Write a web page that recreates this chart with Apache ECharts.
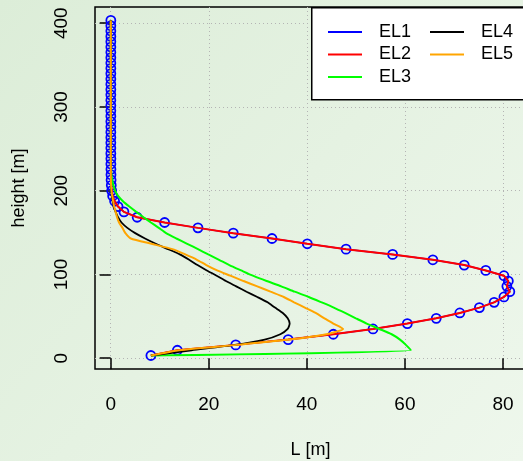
<!DOCTYPE html>
<html>
<head>
<meta charset="utf-8">
<script src="https://cdn.jsdelivr.net/npm/echarts@6/dist/echarts.min.js"></script>
<style>
  html, body { margin: 0; padding: 0; }
  #main { width: 523px; height: 461px; }
</style>
</head>
<body>
<div id="main"></div>
<script>
// model levels, height [m]
const heights = [
  3.2, 9.5, 15.9, 22.2, 28.6, 34.9, 41.3, 47.6, 54.0, 60.4,
  66.7, 73.1, 79.4, 85.8, 92.1, 98.5, 104.8, 111.2, 117.5, 123.9,
  130.2, 136.6, 142.9, 149.3, 155.6, 162.0, 168.3, 174.7, 181.0, 187.4,
  193.7, 200.1, 206.4, 212.8, 219.1, 225.5, 231.8, 238.2, 244.5, 250.9,
  257.2, 263.6, 269.9, 276.3, 282.6, 289.0, 295.3, 301.7, 308.0, 314.4,
  320.7, 327.1, 333.4, 339.8, 346.1, 352.5, 358.8, 365.2, 371.5, 377.9,
  384.2, 390.6, 396.9, 403.3
]

// L [m] per level
const el1 = [
  8.2, 13.6, 25.5, 36.2, 45.4, 53.5, 60.5, 66.4, 71.2, 75.2,
  78.2, 80.2, 81.4, 80.8, 81.1, 80.2, 76.5, 72.1, 65.7, 57.5,
  48.0, 40.1, 32.9, 25.0, 17.8, 11.0, 5.4, 2.7, 1.5, 0.8,
  0.4, 0.2, 0.12, 0.08, 0.06, 0.05, 0.04, 0.04, 0.03, 0.03,
  0.03, 0.03, 0.03, 0.03, 0.03, 0.03, 0.03, 0.03, 0.03, 0.03,
  0.03, 0.03, 0.03, 0.03, 0.03, 0.03, 0.03, 0.03, 0.03, 0.03,
  0.03, 0.03, 0.03, 0.03
]
// EL2 lies exactly on EL1
const el2 = el1
const el3 = [
  8.2, 61.2, 60.2, 59.0, 57.3, 54.8, 52.2, 50.0, 47.8, 45.5,
  43.0, 40.4, 37.5, 34.8, 31.8, 29.0, 26.6, 24.2, 22.1, 19.9,
  17.8, 15.6, 13.4, 11.3, 9.8, 8.2, 6.7, 5.2, 3.8, 2.5,
  1.5, 0.9, 0.55, 0.3, 0.15, 0.08, 0.05, 0.04, 0.04, 0.03,
  0.03, 0.03, 0.03, 0.03, 0.03, 0.03, 0.03, 0.03, 0.03, 0.03,
  0.03, 0.03, 0.03, 0.03, 0.03, 0.03, 0.03, 0.03, 0.03, 0.03,
  0.03, 0.03, 0.03, 0.03
]
const el4 = [
  8.2, 16.5, 25.3, 31.4, 34.6, 36.1, 36.5, 36.1, 35.1, 33.5,
  32.0, 29.9, 27.7, 25.6, 23.5, 21.6, 19.6, 17.7, 16.0, 14.1,
  11.7, 9.2, 7.0, 5.0, 3.4, 2.2, 1.5, 1.0, 0.6, 0.4,
  0.2, 0.1, 0.06, 0.05, 0.04, 0.04, 0.03, 0.03, 0.03, 0.03,
  0.03, 0.03, 0.03, 0.03, 0.03, 0.03, 0.03, 0.03, 0.03, 0.03,
  0.03, 0.03, 0.03, 0.03, 0.03, 0.03, 0.03, 0.03, 0.03, 0.03,
  0.03, 0.03, 0.03, 0.03
]
const el5 = [
  8.2, 14.0, 25.8, 36.5, 44.0, 47.4, 45.4, 43.6, 41.8, 39.6,
  37.4, 35.3, 32.6, 29.9, 27.1, 24.4, 21.7, 19.5, 17.6, 15.2,
  12.6, 8.3, 4.1, 3.0, 2.4, 1.7, 1.3, 1.0, 0.7, 0.5,
  0.3, 0.15, 0.08, 0.05, 0.04, 0.04, 0.03, 0.03, 0.03, 0.03,
  0.03, 0.03, 0.03, 0.03, 0.03, 0.03, 0.03, 0.03, 0.03, 0.03,
  0.03, 0.03, 0.03, 0.03, 0.03, 0.03, 0.03, 0.03, 0.03, 0.03,
  0.03, 0.03, 0.03, 0.03
]

const xTicks = [0, 20, 40, 60, 80]
const yTicks = [0, 100, 200, 300, 400]

const font = '"Liberation Sans", Arial, sans-serif'
const pts = arr => arr.map((v, i) => [v, heights[i]])

const chart = echarts.init(document.getElementById('main'))

const gridLine = { show: true, lineStyle: { color: '#b4b4b4', width: 1, type: [1, 3] } }
const legendText = { fontSize: 18, color: '#000', fontFamily: font, padding: [0, 0, 0, 12] }

chart.setOption({
  animation: false,
  backgroundColor: {
    type: 'linear', x: 0, y: 0, x2: 1, y2: 1,
    colorStops: [{ offset: 0, color: '#dcedd8' }, { offset: 1, color: '#eef7ec' }]
  },
  grid: {
    left: 95, right: -3, top: 7, bottom: 92, outerBoundsMode: 'none',
    show: true, borderColor: '#000', borderWidth: 1.5, backgroundColor: 'transparent'
  },
  xAxis: {
    type: 'value', min: -3.2, max: 84.7,
    name: 'L [m]', nameLocation: 'middle', nameGap: 72,
    nameTextStyle: { fontSize: 18, color: '#000', fontFamily: font },
    axisLine: { show: false },
    axisTick: { show: true, length: 11, customValues: xTicks, lineStyle: { color: '#000', width: 1.5 } },
    axisLabel: { customValues: xTicks, fontSize: 19, color: '#000', fontFamily: font, margin: 26 },
    splitLine: gridLine
  },
  yAxis: {
    type: 'value', min: -12.9, max: 419.3,
    name: 'height [m]', nameLocation: 'middle', nameGap: 67,
    nameTextStyle: { fontSize: 18, color: '#000', fontFamily: font },
    axisLine: { show: false },
    axisTick: { show: true, length: 11, customValues: yTicks, lineStyle: { color: '#000', width: 1.5 } },
    axisLabel: { customValues: yTicks, rotate: 90, fontSize: 19, color: '#000', fontFamily: font, margin: 24 },
    splitLine: gridLine
  },
  graphic: [{
    type: 'rect', left: 311, top: 7, z: 3,
    shape: { width: 220, height: 92 },
    style: { fill: '#fff', stroke: '#000', lineWidth: 1.5 }
  }],
  legend: [
    {
      left: 323, top: 18, orient: 'vertical', itemGap: 4.5,
      icon: 'rect', itemWidth: 34, itemHeight: 2, textStyle: legendText,
      data: [{ name: 'EL1', itemStyle: { color: '#0000ff', borderWidth: 0 } }, 'EL2', 'EL3']
    },
    {
      left: 425, top: 18, orient: 'vertical', itemGap: 4.5,
      icon: 'rect', itemWidth: 34, itemHeight: 2, textStyle: legendText,
      data: ['EL4', 'EL5']
    }
  ],
  series: [
    {
      name: 'EL1', type: 'line', data: pts(el1), z: 1,
      symbol: 'circle', symbolSize: 9, showAllSymbol: true,
      itemStyle: { color: 'rgba(0,0,0,0)', borderColor: '#0000ff', borderWidth: 1.8 },
      lineStyle: { color: '#0000ff', width: 1.5 }
    },
    {
      name: 'EL2', type: 'line', data: pts(el2), symbol: 'none',
      itemStyle: { color: '#ff0000' }, lineStyle: { color: '#ff0000', width: 2 }
    },
    {
      name: 'EL3', type: 'line', data: pts(el3), symbol: 'none', smooth: 0.2,
      itemStyle: { color: '#00ff00' }, lineStyle: { color: '#00ff00', width: 2 }
    },
    {
      name: 'EL4', type: 'line', data: pts(el4), symbol: 'none', smooth: 0.2,
      itemStyle: { color: '#000000' }, lineStyle: { color: '#000000', width: 1.8 }
    },
    {
      name: 'EL5', type: 'line', data: pts(el5), symbol: 'none', smooth: 0.2,
      itemStyle: { color: '#ffa500' }, lineStyle: { color: '#ffa500', width: 2 }
    }
  ]
})
</script>
</body>
</html>
